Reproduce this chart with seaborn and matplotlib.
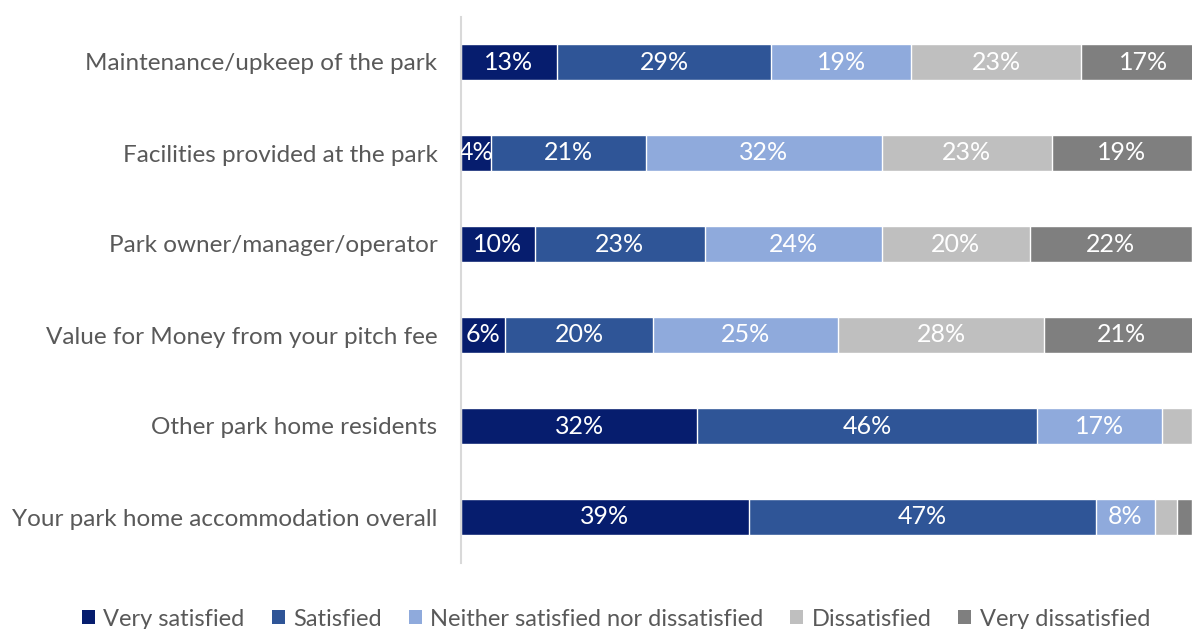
import numpy as np
import pandas as pd
import matplotlib
matplotlib.use("Agg")
import matplotlib.pyplot as plt
from matplotlib.patches import Patch
import seaborn as sns

categories = [
    "Maintenance/upkeep of the park",
    "Facilities provided at the park",
    "Park owner/manager/operator",
    "Value for Money from your pitch fee",
    "Other park home residents",
    "Your park home accommodation overall",
]
series = ["Very satisfied", "Satisfied", "Neither satisfied nor dissatisfied",
          "Dissatisfied", "Very dissatisfied"]
very_satisfied = [13, 4, 10, 6, 32, 39]
satisfied = [29, 21, 23, 20, 46, 47]
neither = [19, 32, 24, 25, 17, 8]
dissatisfied = [23, 23, 20, 28, 4, 3]
very_dissatisfied = [17, 19, 22, 21, 1, 2]
# which segments carry a value label (per series, per category)
shown = [
    [True] * 6,
    [True] * 6,
    [True] * 6,
    [True, True, True, True, False, False],
    [True, True, True, True, False, False],
]

colors = ["#061d6e", "#2f5597", "#8faadc", "#bfbfbf", "#7f7f7f"]
text_grey = "#595959"

values = np.array([very_satisfied, satisfied, neither, dissatisfied, very_dissatisfied], dtype=float)
cum = np.cumsum(values, axis=0)

sns.set_theme(style="white")
plt.rcParams["font.family"] = ["Lato", "DejaVu Sans"]

fig = plt.figure(figsize=(11.92, 6.29), dpi=100)
ax = fig.add_axes([461 / 1192, 1 - 562.5 / 629, 1 - 461 / 1192, (562.5 - 16.5) / 629])

# stacked bars drawn as cumulative totals, longest first
for i in range(len(series) - 1, -1, -1):
    df = pd.DataFrame({"category": categories, "total": cum[i]})
    sns.barplot(data=df, y="category", x="total", orient="h", color=colors[i],
                width=0.4, edgecolor="white", linewidth=1.0, saturation=1,
                ax=ax)

for i in range(len(series)):
    for j in range(len(categories)):
        if not shown[i][j]:
            continue
        start = cum[i][j] - values[i][j]
        ax.text(start + values[i][j] / 2, j, f"{int(values[i][j])}%",
                ha="center", va="center", color="white", fontsize=18,
                clip_on=True)

ax.set_xlim(0, 99)
ax.set_ylim(5.5, -0.5)
ax.set_xlabel("")
ax.set_ylabel("")
ax.set_xticks([])
ax.tick_params(axis="y", length=0, pad=17, labelsize=17.5, labelcolor=text_grey)
for side in ["top", "right", "bottom"]:
    ax.spines[side].set_visible(False)
ax.spines["left"].set_color("#d9d9d9")
ax.spines["left"].set_linewidth(1.5)

handles = [Patch(facecolor=c, edgecolor="none") for c in colors]
fig.legend(handles, series, loc="center", ncol=5,
           bbox_to_anchor=(616 / 1192, 1 - 619 / 629), frameon=False,
           fontsize=17, handlelength=0.55, handleheight=0.55,
           handletextpad=0.35, columnspacing=1.15, labelcolor=text_grey)

fig.savefig("out.png", dpi=100)
